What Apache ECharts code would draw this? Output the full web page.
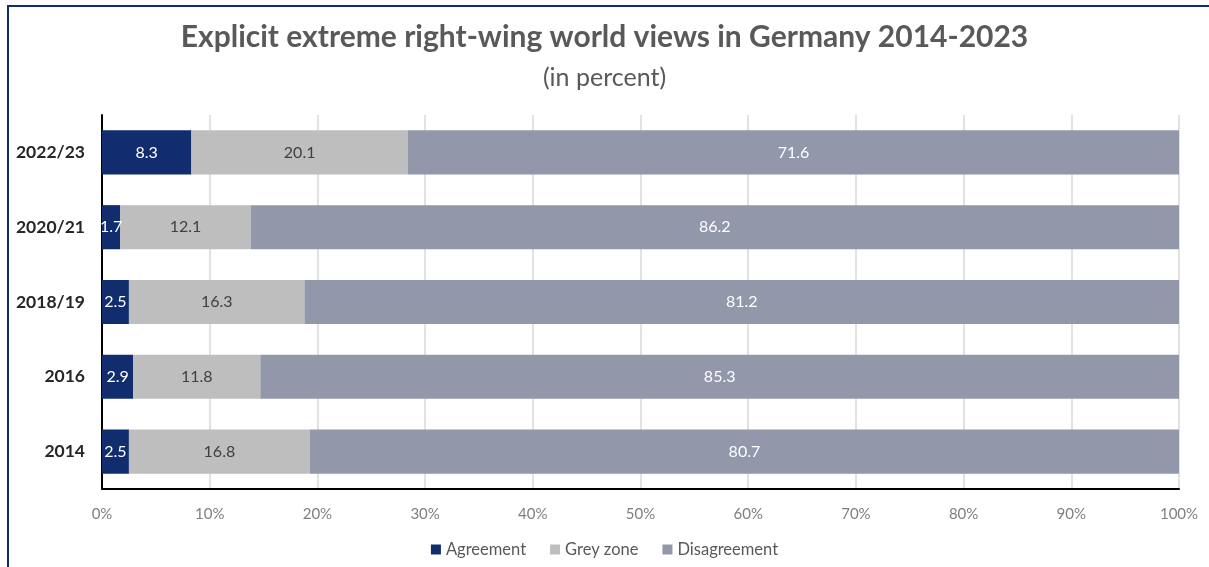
<!DOCTYPE html>
<html>
<head>
<meta charset="utf-8">
<script src="https://cdn.jsdelivr.net/npm/echarts@6/dist/echarts.min.js"></script>
<style>
  html, body { margin: 0; padding: 0; background: #fff; }
  #chart { width: 1209px; height: 567px; }
</style>
</head>
<body>
<div id="chart"></div>
<script>
// Survey waves, bottom to top
const waves = ['2014', '2016', '2018/19', '2020/21', '2022/23'];
// Shares in percent per wave
const agreement = [2.5, 2.9, 2.5, 1.7, 8.3];
const greyZone = [16.8, 11.8, 16.3, 12.1, 20.1];
const disagreement = [80.7, 85.3, 81.2, 86.2, 71.6];
const seriesNames = ['Agreement', 'Grey zone', 'Disagreement'];
const axisTicks = [0, 10, 20, 30, 40, 50, 60, 70, 80, 90, 100];

const FONT = 'Lato, "Open Sans", sans-serif';
const colors = ['#112D6E', '#BDBEBD', '#9397AA'];
const labelColors = ['#ffffff', '#404040', '#ffffff'];

const chart = echarts.init(document.getElementById('chart'));

function barSeries(name, data, i) {
  return {
    name: name,
    type: 'bar',
    stack: 'total',
    barWidth: '59%',
    data: data,
    itemStyle: { color: colors[i] },
    label: {
      show: true,
      position: 'inside',
      color: labelColors[i],
      fontFamily: FONT,
      fontSize: 16,
      formatter: p => p.value.toFixed(1)
    },
    emphasis: { disabled: true }
  };
}

chart.setOption({
  animation: false,
  textStyle: { fontFamily: FONT },
  title: {
    text: 'Explicit extreme right-wing world views in Germany 2014-2023',
    subtext: '(in percent)',
    left: 'center',
    top: 17,
    itemGap: 13,
    textStyle: { fontFamily: FONT, fontSize: 30, fontWeight: 'bold', color: '#595959' },
    subtextStyle: { fontFamily: FONT, fontSize: 25, color: '#595959' }
  },
  graphic: [{
    type: 'rect',
    shape: { x: 8, y: 6, width: 1400, height: 800 },
    style: { fill: 'none', stroke: '#112D6E', lineWidth: 2 },
    silent: true
  }],
  legend: {
    bottom: 4,
    left: 'center',
    itemWidth: 10,
    itemHeight: 10,
    itemGap: 24,
    icon: 'rect',
    textStyle: { fontFamily: FONT, fontSize: 16.5, color: '#595959' },
    data: seriesNames
  },
  grid: { left: 102, right: 30, top: 115, bottom: 78 },
  xAxis: {
    type: 'value',
    min: axisTicks[0],
    max: axisTicks[axisTicks.length - 1],
    interval: axisTicks[1] - axisTicks[0],
    axisLine: { show: true, lineStyle: { color: '#000', width: 2 } },
    axisTick: { show: false },
    axisLabel: { color: '#7f7f7f', fontSize: 15, fontFamily: FONT, margin: 18, formatter: v => v + '%' },
    splitLine: { show: true, lineStyle: { color: '#d9d9d9', width: 1.5 } }
  },
  yAxis: {
    type: 'category',
    data: waves,
    axisLine: { show: true, lineStyle: { color: '#000', width: 2 } },
    axisTick: { show: false },
    axisLabel: { color: '#262626', fontSize: 17.5, fontWeight: 'bold', fontFamily: FONT, margin: 17 }
  },
  series: [
    barSeries(seriesNames[0], agreement, 0),
    barSeries(seriesNames[1], greyZone, 1),
    barSeries(seriesNames[2], disagreement, 2)
  ]
});
</script>
</body>
</html>
